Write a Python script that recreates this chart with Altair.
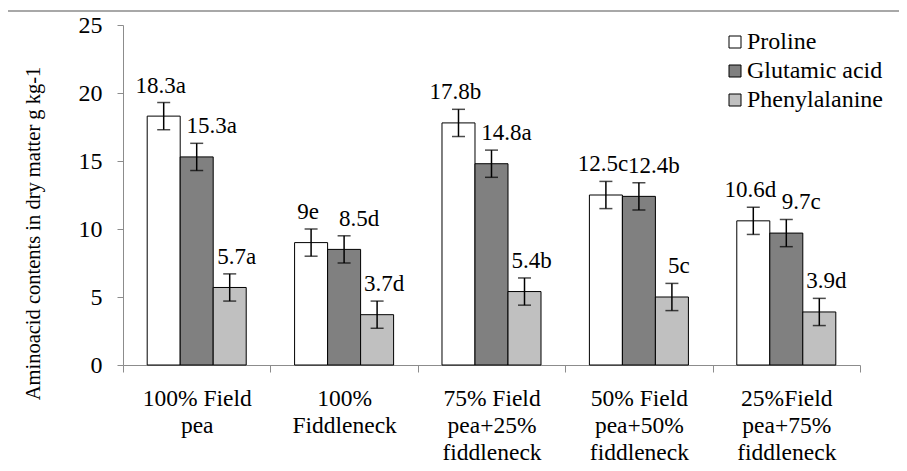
import altair as alt
import pandas as pd

categories = ["100% Field pea", "100% Fiddleneck", "75% Field pea+25% fiddleneck",
              "50% Field pea+50% fiddleneck", "25%Field pea+75% fiddleneck"]
category_lines = [["100% Field", "pea"], ["100%", "Fiddleneck"],
                  ["75% Field", "pea+25%", "fiddleneck"],
                  ["50% Field", "pea+50%", "fiddleneck"],
                  ["25%Field", "pea+75%", "fiddleneck"]]
series = ["Proline", "Glutamic acid", "Phenylalanine"]
proline = [18.3, 9.0, 17.8, 12.5, 10.6]
glutamic = [15.3, 8.5, 14.8, 12.4, 9.7]
phenyl = [5.7, 3.7, 5.4, 5.0, 3.9]
proline_letters = ["a", "e", "b", "c", "d"]
glutamic_letters = ["a", "d", "a", "b", "c"]
phenyl_letters = ["a", "d", "b", "c", "d"]
error = [1.0, 1.0, 1.0, 1.0, 1.0]
y_ticks = [0, 5, 10, 15, 20, 25]

rows = []
for s, vals, lets in zip(series, [proline, glutamic, phenyl],
                         [proline_letters, glutamic_letters, phenyl_letters]):
    for c, v, l, e in zip(categories, vals, lets, error):
        rows.append({"category": c, "series": s, "value": v,
                     "lo": v - e, "hi": v + e, "label": f"{v:g}{l}"})
df = pd.DataFrame(rows)

FONT = "Liberation Serif"

expr = "''"
for c, lines in reversed(list(zip(categories, category_lines))):
    arr = "[" + ",".join("'" + t + "'" for t in lines) + "]"
    expr = f"datum.value == '{c}' ? {arr} : ({expr})"

x_enc = alt.X("category:N", sort=categories,
              scale=alt.Scale(paddingInner=0, paddingOuter=0),
              axis=alt.Axis(title=None, labelAngle=0, labelExpr=expr,
                            labelFont=FONT, labelFontSize=23.5, labelColor="black",
                            labelLineHeight=27, labelPadding=14,
                            domainColor="#8c8c8c", tickColor="#8c8c8c",
                            tickSize=7, tickBand="extent", grid=False))
xo_enc = alt.XOffset("series:N", sort=series,
                     scale=alt.Scale(domain=series, paddingOuter=0.733, paddingInner=0))
y_scale = alt.Scale(domain=[0, 25])
y_axis = alt.Axis(values=y_ticks, grid=False, title="Aminoacid contents in dry matter g kg-1",
                  labelFont=FONT, labelFontSize=24, labelColor="black", labelPadding=15,
                  domainColor="#8c8c8c", tickColor="#8c8c8c", tickSize=6,
                  titleFont=FONT, titleFontSize=20.5, titleFontWeight="normal",
                  titleColor="black", titleX=-84, titleY=208, titleAlign="center",
                  titleBaseline="alphabetic", titleAngle=270)

base = alt.Chart(df)

bars = base.mark_bar(stroke="black", strokeWidth=1).encode(
    x=x_enc, xOffset=xo_enc,
    y=alt.Y("value:Q", scale=y_scale, axis=y_axis),
    color=alt.Color("series:N", sort=series,
                    scale=alt.Scale(domain=series, range=["#ffffff", "#808080", "#c0c0c0"]),
                    legend=alt.Legend(title=None, orient="none", legendX=600, legendY=5,
                                      symbolType="square", symbolSize=144,
                                      symbolStrokeColor="black", symbolStrokeWidth=1,
                                      labelFont=FONT, labelFontSize=24, labelColor="black",
                                      labelOffset=0, rowPadding=5)),
)

err = base.mark_rule(color="black", strokeWidth=1.5).encode(
    x=alt.X("category:N", sort=categories), xOffset=xo_enc,
    y=alt.Y("lo:Q", scale=y_scale), y2="hi:Q")
cap_lo = base.mark_tick(color="black", thickness=1.5, size=13).encode(
    x=alt.X("category:N", sort=categories), xOffset=xo_enc,
    y=alt.Y("lo:Q", scale=y_scale))
cap_hi = base.mark_tick(color="black", thickness=1.5, size=13).encode(
    x=alt.X("category:N", sort=categories), xOffset=xo_enc,
    y=alt.Y("hi:Q", scale=y_scale))

text_dx = {"Proline": -3, "Glutamic acid": 15, "Phenylalanine": 7}
texts = []
for s in series:
    texts.append(base.transform_filter(alt.datum.series == s).mark_text(
        font=FONT, fontSize=23, color="black", baseline="alphabetic",
        dy=-10, dx=text_dx[s]).encode(
        x=alt.X("category:N", sort=categories), xOffset=xo_enc,
        y=alt.Y("hi:Q", scale=y_scale), text="label:N"))

border = alt.Chart(alt.Data(values=[{"b": 1}])).mark_rect(
    fill="transparent", stroke="#8c8c8c", strokeWidth=1.3).encode(
    x=alt.value(-116), x2=alt.value(900), y=alt.value(-14), y2=alt.value(600))

chart = alt.layer(border, bars, err, cap_lo, cap_hi, *texts).properties(
    width=737, height=340,
    autosize=alt.AutoSizeParams(type="none"),
    padding={"left": 115, "top": 17, "right": 39, "bottom": 98},
).configure(font=FONT).configure_view(stroke=None)

chart.save("out.html", embed_options={"renderer": "svg", "actions": False})
